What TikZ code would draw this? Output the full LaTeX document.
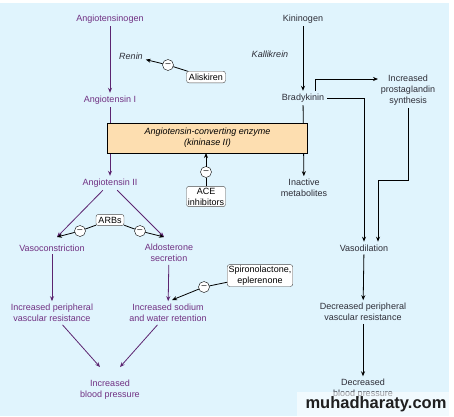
\documentclass[tikz,border=0pt]{standalone}
\usepackage{fontspec}
\setmainfont{Liberation Sans}
\usetikzlibrary{arrows.meta}
\definecolor{bg}{RGB}{224,244,253}
\definecolor{pur}{RGB}{112,48,130}
\definecolor{purline}{RGB}{92,36,112}
\definecolor{dk}{RGB}{45,45,55}
\definecolor{enz}{RGB}{253,222,176}
\begin{document}
\begin{tikzpicture}[x=1pt,y=-1pt,
  every node/.style={font=\fontsize{9}{11}\selectfont, align=center, inner sep=1pt, outer sep=2pt},
  ptxt/.style={text=pur},
  dtxt/.style={text=dk},
  drug/.style={draw=gray!60!black, rounded corners=2.5pt, fill=white, text=black, inner sep=2.5pt, outer sep=0pt},
  inh/.style={circle, draw=black, fill=white, minimum size=11pt, inner sep=0pt, outer sep=0pt, font=\fontsize{9}{9}\selectfont},
  parr/.style={draw=purline, line width=0.8pt, -{Stealth[length=5pt,width=4pt]}},
  darr/.style={draw=black, line width=0.8pt, -{Stealth[length=5pt,width=4pt]}},
  dline/.style={draw=black, line width=0.8pt}
]
\useasboundingbox (0,0) rectangle (454,416);
\fill[bg] (0,3) rectangle (449,416);

% ---------- left (renin-angiotensin) ----------
\node[ptxt] (agen) at (110,19) {Angiotensinogen};
\node[ptxt] (ang1) at (110,100) {Angiotensin I};
\node[ptxt] (ang2) at (110,183) {Angiotensin II};
\node[text=dk, font=\fontsize{9}{11}\selectfont\itshape] (renin) at (131,56) {Renin};
\node[inh] (cren) at (168,65) {–};
\node[drug] (alis) at (206,77) {Aliskiren};

\node[ptxt] (vasoc) at (52,248) {Vasoconstriction};
\node[ptxt] (aldo) at (169,253) {Aldosterone\\secretion};
\node[ptxt] (ipvr) at (52,313) {Increased peripheral\\vascular resistance};
\node[ptxt] (isod) at (168,313) {Increased sodium\\and water retention};
\node[ptxt] (ibp) at (110,390) {Increased\\blood pressure};

\node[drug] (arbs) at (110,220) {ARBs};
\node[inh] (carbL) at (80,231) {–};
\node[inh] (carbR) at (140,231) {–};
\coordinate (vasoTip) at (57,237);
\coordinate (aldoTip) at (164,237);
\coordinate (isodTip) at (172,300);
\coordinate (ibpL) at (100,367);
\coordinate (ibpR) at (120,367);

\node[drug, inner sep=1.5pt, font=\fontsize{9}{10.5}\selectfont] (spiro) at (260,275.5) {Spironolactone,\\eplerenone};
\node[inh] (cspi) at (204,287) {–};

% ---------- right (kallikrein-kinin) ----------
\node[dtxt] (kin) at (303,19) {Kininogen};
\node[dtxt, font=\fontsize{9}{11}\selectfont\itshape] (kall) at (270,54) {Kallikrein};
\node[dtxt] (brady) at (303,98) {Bradykinin};
\node[dtxt] (pg) at (408,90) {Increased\\prostaglandin\\synthesis};
\node[dtxt] (inact) at (304,188) {Inactive\\metabolites};
\node[dtxt] (vdil) at (364,248) {Vasodilation};
\node[dtxt] (dpvr) at (363,312) {Decreased peripheral\\vascular resistance};
\node[dtxt] (dbp) at (363,389) {Decreased\\blood pressure};

% connectors passing behind the enzyme box
\draw[parr] (ang1) -- (ang2);
\draw[darr] (brady) -- (inact);

% enzyme box
\node[draw=black, line width=0.6pt, fill=enz, minimum width=200pt, minimum height=30pt, outer sep=0pt,
      font=\fontsize{9}{11}\selectfont\itshape, text=black] (ace) at (207.5,138) {Angiotensin-converting enzyme\\(kininase II)};
\node[inh] (cace) at (206,172) {–};
\node[drug, inner sep=1.5pt, font=\fontsize{9}{11}\selectfont] (acei) at (206,196.5) {ACE\\inhibitors};

% left connectors
\draw[parr] (agen) -- (ang1);
\draw[darr] (cren) -- (renin);
\draw[dline] (alis) -- (cren);
\draw[parr] (ang2) -- (vasoTip);
\draw[parr] (ang2) -- (aldoTip);
\draw[dline] (arbs) -- (carbL);
\draw[dline] (arbs) -- (carbR);
\draw[darr] (carbL) -- (vasoTip);
\draw[darr] (carbR) -- (aldoTip);
\draw[parr] (vasoc) -- (ipvr);
\draw[parr] (aldo) -- (isod);
\draw[dline] (spiro) -- (cspi);
\draw[darr] (cspi) -- (isodTip);
\draw[parr] (ipvr) -- (ibpL);
\draw[parr] (isod) -- (ibpR);
\draw[dline] (acei) -- (cace);
\draw[darr] (cace) -- (ace.south -| cace);

% right connectors
\draw[darr] (kin) -- (brady);
\draw[darr] ([xshift=12pt]brady.north) |- ([yshift=11pt]pg.west);
\draw[darr] (brady.east) -| (vdil.north);
\draw[darr] (pg.south) -- ++(0,72) -| ([xshift=14pt]vdil.north);
\draw[darr] (vdil) -- (dpvr);
\draw[darr] (dpvr) -- (dbp);

% watermark
\fill[white, opacity=0.55] (297,392) rectangle (449,416);
\node[font=\fontsize{16.5}{18}\selectfont\bfseries, text=black!88, inner sep=0pt] (wm) at (376,404) {muhadharaty.com};
\end{tikzpicture}
\end{document}
